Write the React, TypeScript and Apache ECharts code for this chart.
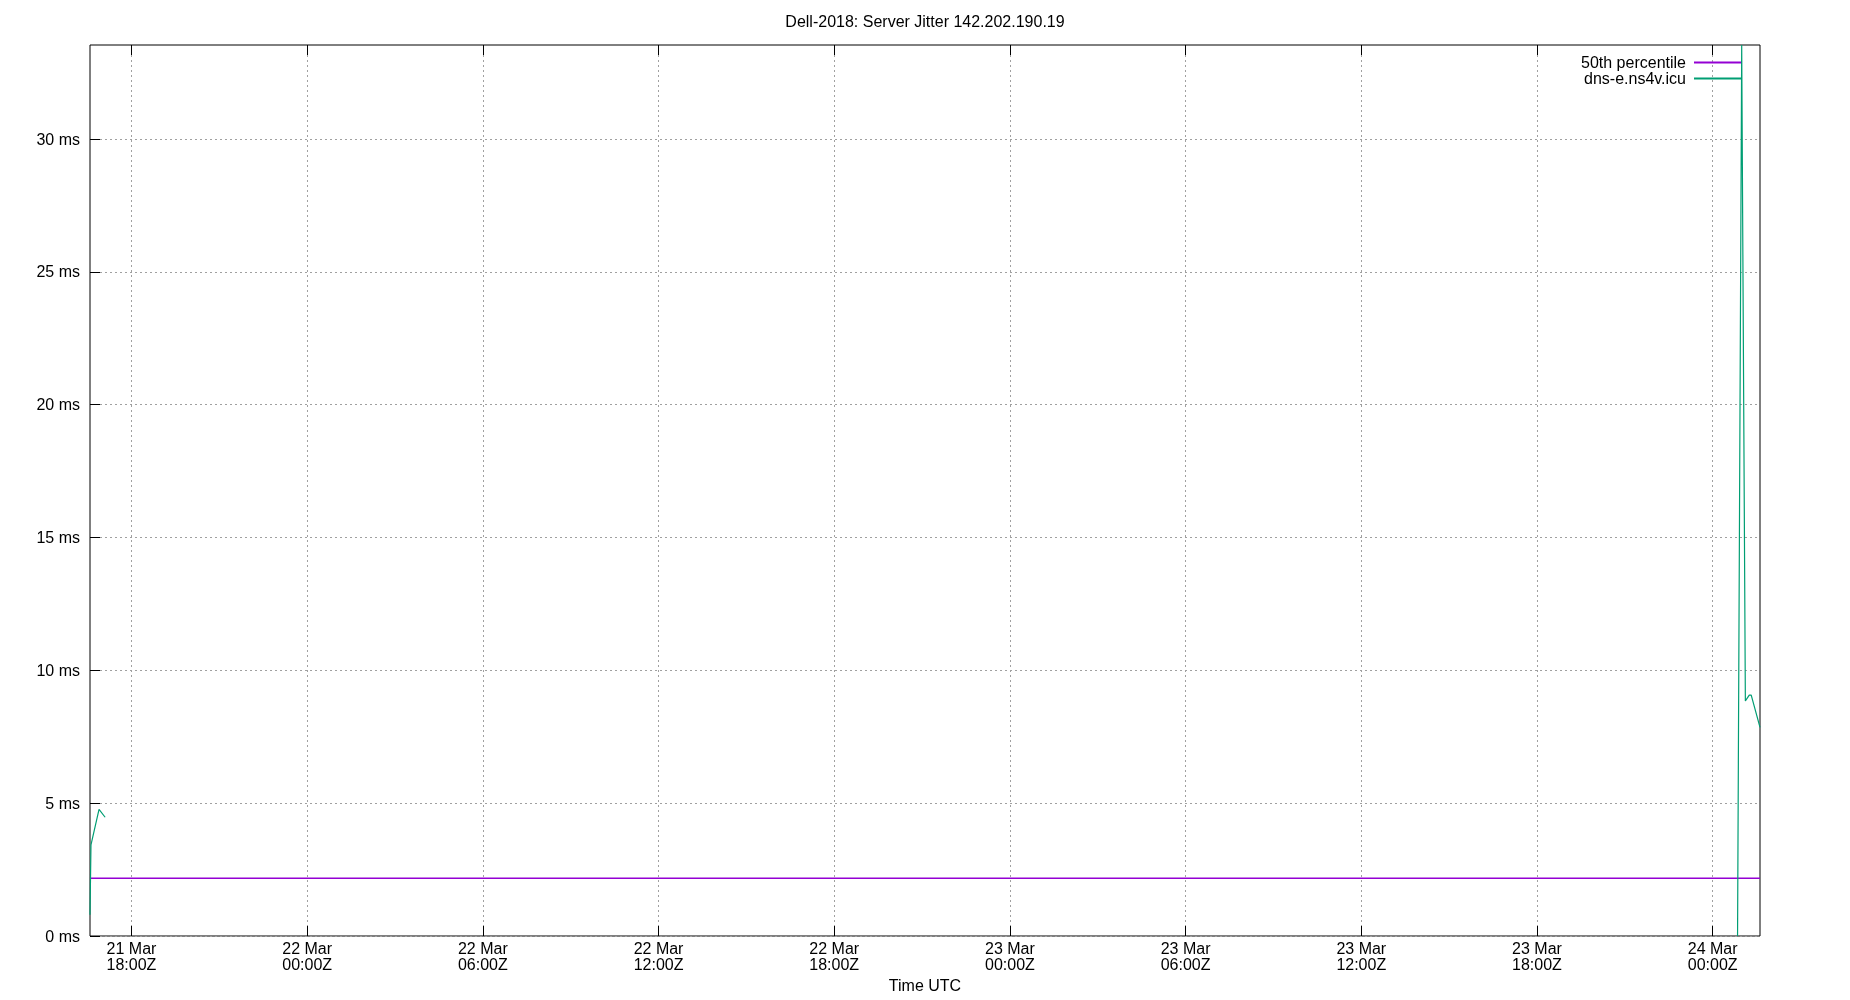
import React, { useEffect, useRef } from 'react';
import * as echarts from 'echarts';

const TITLE = 'Dell-2018: Server Jitter 142.202.190.19';
const X_AXIS_NAME = 'Time UTC';
const X_START = '2025-03-21T16:35:00Z';
const X_END = '2025-03-24T01:37:00Z';
const Y_MAX = 33.54;
const yTickValues = [0, 5, 10, 15, 20, 25, 30];
const xTickTimes = [
  '2025-03-21T18:00:00Z',
  '2025-03-22T00:00:00Z',
  '2025-03-22T06:00:00Z',
  '2025-03-22T12:00:00Z',
  '2025-03-22T18:00:00Z',
  '2025-03-23T00:00:00Z',
  '2025-03-23T06:00:00Z',
  '2025-03-23T12:00:00Z',
  '2025-03-23T18:00:00Z',
  '2025-03-24T00:00:00Z',
];
const MONTHS = ['Jan', 'Feb', 'Mar', 'Apr', 'May', 'Jun', 'Jul', 'Aug', 'Sep', 'Oct', 'Nov', 'Dec'];

const seriesNames = ['50th percentile', 'dns-e.ns4v.icu'];

const percentileTimes = [X_START, X_END];
const percentileValues = [2.17, 2.17];

const dnsTimes = [
  '2025-03-21T16:35:00Z',
  '2025-03-21T16:37:00Z',
  '2025-03-21T16:53:30Z',
  '2025-03-21T17:06:00Z',
  '2025-03-22T12:00:00Z',
  '2025-03-24T00:51:00Z',
  '2025-03-24T00:59:30Z',
  '2025-03-24T01:07:00Z',
  '2025-03-24T01:15:00Z',
  '2025-03-24T01:19:00Z',
  '2025-03-24T01:37:00Z',
];
const dnsValues: (number | null)[] = [0.8, 3.43, 4.77, 4.47, null, 0, 33.54, 8.85, 9.07, 9.07, 7.85];

export default function App() {
  const ref = useRef<HTMLDivElement>(null);
  useEffect(() => {
    const chart = echarts.init(ref.current!, null, { renderer: 'svg' });
    const font = 'Liberation Sans';
    const xMin = Date.parse(X_START);
    const xMax = Date.parse(X_END);
    const xTicks = xTickTimes.map((t) => Date.parse(t));
    const fmtX = (v: number) => {
      const d = new Date(Math.round(v));
      return `${d.getUTCDate()} ${MONTHS[d.getUTCMonth()]}\n${String(d.getUTCHours()).padStart(2, '0')}:${String(
        d.getUTCMinutes()
      ).padStart(2, '0')}Z`;
    };
    const black = '#000';
    const gridLine = { show: true, lineStyle: { color: '#a0a0a0', width: 1, type: [2, 3] as any } };
    const noLine = { show: false };
    const tickOnly = (values: number[]) => ({
      axisLine: noLine,
      axisTick: { show: true, length: 10, customValues: values, lineStyle: { color: black, width: 1 } },
      axisLabel: { show: false },
      splitLine: { show: false },
    });
    chart.setOption({
      animation: false,
      title: {
        text: TITLE,
        left: 'center',
        top: 13,
        padding: 0,
        textStyle: { fontSize: 16, fontWeight: 'normal', color: black, fontFamily: font },
      },
      legend: {
        data: seriesNames,
        orient: 'vertical',
        align: 'right',
        right: 108,
        top: 54.5,
        padding: 0,
        itemGap: 0,
        itemWidth: 47,
        itemHeight: 15,
        selectedMode: false,
        itemStyle: { opacity: 0 },
        textStyle: { fontSize: 16, color: black, fontFamily: font, lineHeight: 15, padding: [0, 3, 0, 0] },
      },
      grid: {
        left: 90,
        right: 90,
        top: 45,
        bottom: 64,
        containLabel: false,
        outerBoundsMode: 'none',
        show: true,
        borderColor: black,
        borderWidth: 1,
        backgroundColor: 'transparent',
      },
      xAxis: [
        {
          type: 'value',
          min: xMin,
          max: xMax,
          position: 'bottom',
          axisLine: noLine,
          axisTick: { show: false, customValues: xTicks },
          axisLabel: {
            customValues: xTicks,
            formatter: fmtX,
            fontSize: 16,
            lineHeight: 16,
            color: black,
            fontFamily: font,
            margin: 4,
            hideOverlap: false,
          },
          splitLine: gridLine,
          name: X_AXIS_NAME,
          nameLocation: 'middle',
          nameGap: 41,
          nameTextStyle: { fontSize: 16, color: black, fontFamily: font },
        },
        { type: 'value', min: xMin, max: xMax, position: 'bottom', offset: -10, ...tickOnly(xTicks) },
        { type: 'value', min: xMin, max: xMax, position: 'top', offset: -10, ...tickOnly(xTicks) },
      ],
      yAxis: [
        {
          type: 'value',
          min: 0,
          max: Y_MAX,
          interval: 5,
          position: 'left',
          axisLine: noLine,
          axisTick: { show: false, customValues: yTickValues },
          axisLabel: {
            customValues: yTickValues,
            formatter: (v: number) => `${v} ms`,
            fontSize: 16,
            color: black,
            fontFamily: font,
            margin: 10,
          },
          splitLine: gridLine,
        },
        { type: 'value', min: 0, max: Y_MAX, position: 'left', offset: -10, ...tickOnly(yTickValues) },
      ],
      series: [
        {
          name: seriesNames[0],
          type: 'line',
          xAxisIndex: 0,
          yAxisIndex: 0,
          symbol: 'none',
          lineStyle: { color: '#9400d3', width: 1.5 },
          itemStyle: { color: '#9400d3' },
          data: percentileTimes.map((t, i) => [Date.parse(t), percentileValues[i]]),
        },
        {
          name: seriesNames[1],
          type: 'line',
          xAxisIndex: 0,
          yAxisIndex: 0,
          symbol: 'none',
          connectNulls: false,
          lineStyle: { color: '#009e73', width: 1.2 },
          itemStyle: { color: '#009e73' },
          data: dnsTimes.map((t, i) => [Date.parse(t), dnsValues[i]]),
        },
      ],
    });
    return () => chart.dispose();
  }, []);
  return <div ref={ref} style={{ position: 'fixed', left: 0, top: 0, width: 1850, height: 1000 }} />;
}
